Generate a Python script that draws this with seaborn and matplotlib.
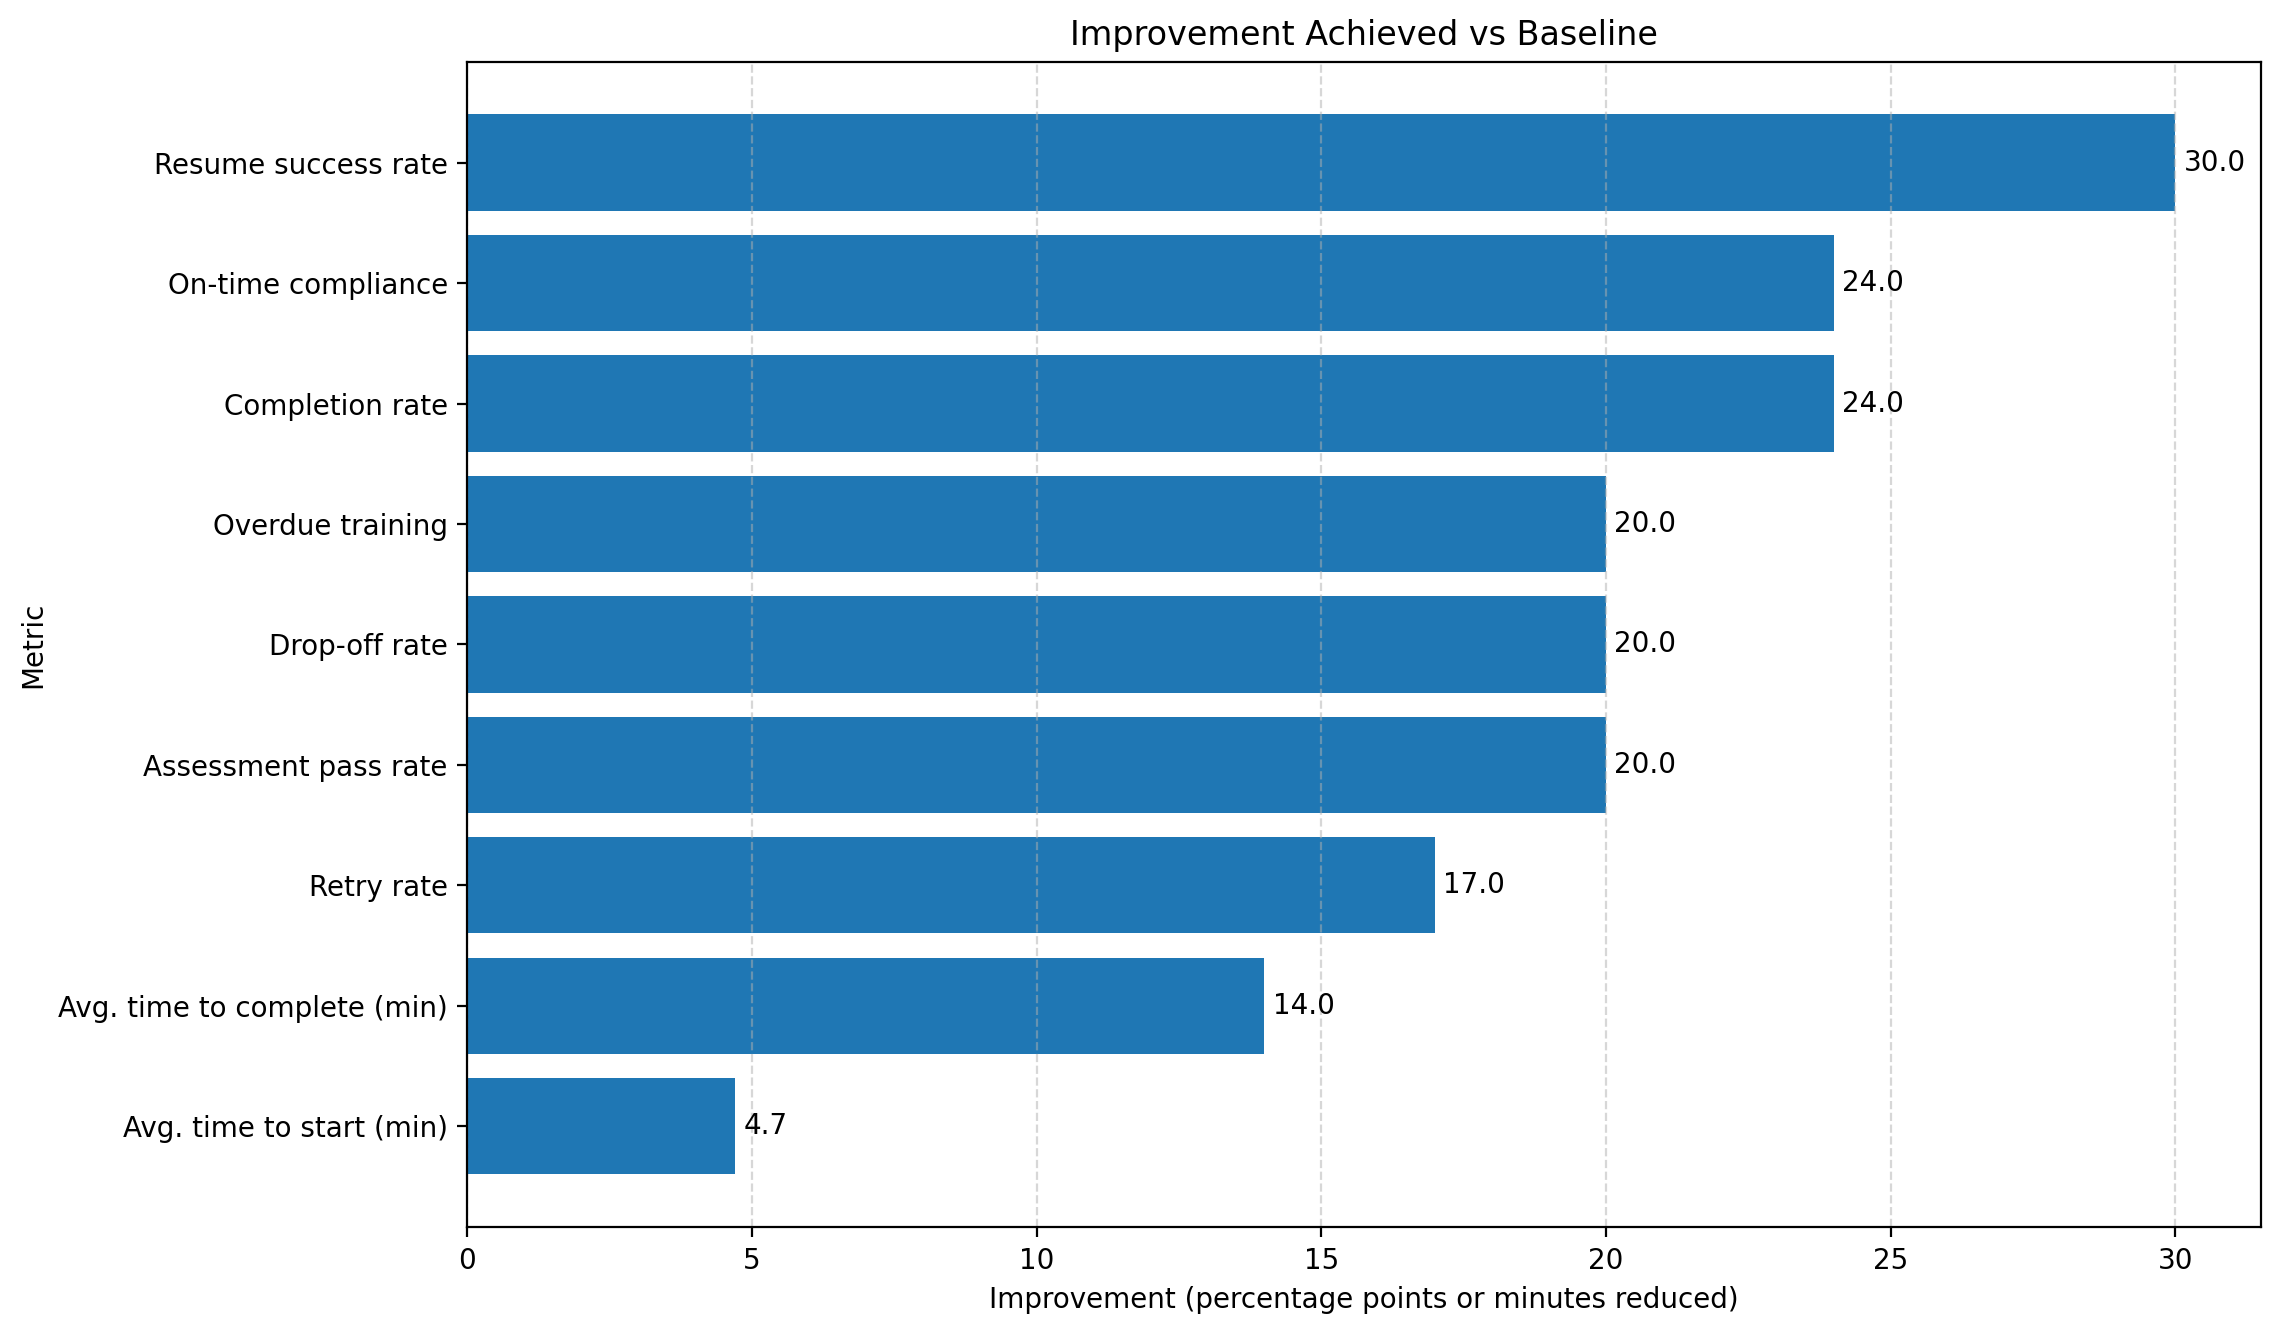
import matplotlib
matplotlib.use("Agg")
import matplotlib.pyplot as plt
import seaborn as sns
import pandas as pd

#%% data
metrics = ['Resume success rate', 'On-time compliance', 'Completion rate',
           'Overdue training', 'Drop-off rate', 'Assessment pass rate',
           'Retry rate', 'Avg. time to complete (min)', 'Avg. time to start (min)']
improvement = [30.0, 24.0, 24.0, 20.0, 20.0, 20.0, 17.0, 14.0, 4.7]

df = pd.DataFrame({'Metric': metrics, 'Improvement': improvement})

#%% plot (plain matplotlib look, black text)
plt.rcParams['font.family'] = ['DejaVu Sans']
fig = plt.figure(figsize=(11.395, 6.685), dpi=200)
ax = fig.add_axes([0.205, 0.082, 0.787, 0.872])

sns.barplot(data=df, x='Improvement', y='Metric', orient='h', color='#1f77b4',
            saturation=1, width=0.8, ax=ax)
ax.bar_label(ax.containers[0], fmt='%.1f', padding=3, fontsize=10)

n = len(metrics)
ax.set_ylim(n - 1 + 0.84, -0.84)
ax.set_xlim(0, 31.5)
ax.set_xticks([0, 5, 10, 15, 20, 25, 30])
# grid sits over the bars, like the reference
ax.set_axisbelow('line')
ax.grid(axis='x', linestyle='--', alpha=0.5)
ax.grid(axis='y', visible=False)
ax.tick_params(labelsize=10)
ax.set_xlabel('Improvement (percentage points or minutes reduced)', fontsize=10)
ax.set_ylabel('Metric', fontsize=10)
ax.set_title('Improvement Achieved vs Baseline', fontsize=12)

fig.savefig('out.png', dpi=200)
